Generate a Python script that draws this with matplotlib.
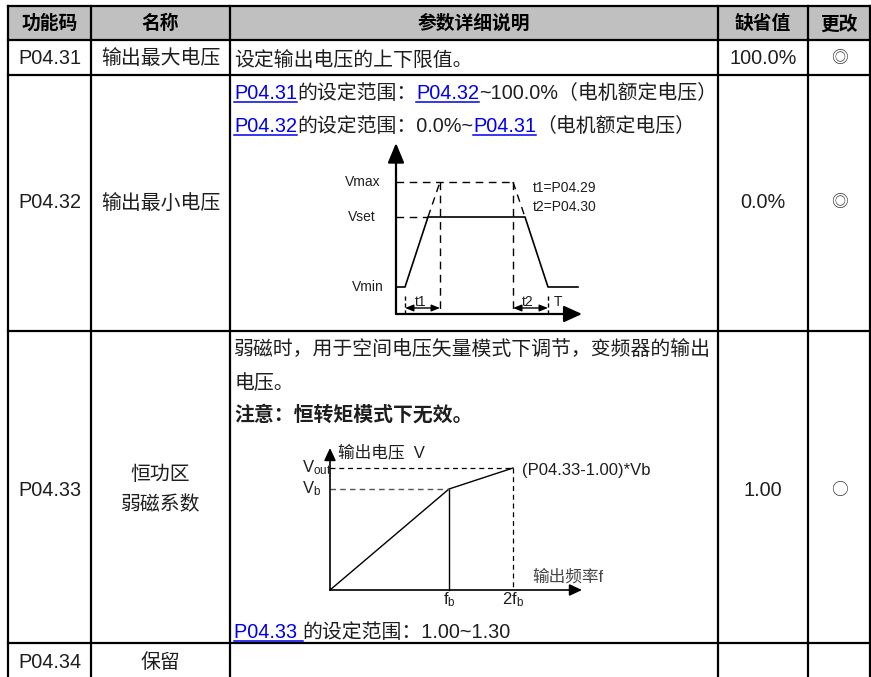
import matplotlib
matplotlib.use('Agg')
import matplotlib.pyplot as plt

plt.rcParams['font.family'] = ['Liberation Sans', 'Noto Sans CJK SC', 'DejaVu Sans']
plt.rcParams['mathtext.fontset'] = 'custom'
plt.rcParams['mathtext.rm'] = 'Liberation Sans'

# ---- table content ----
headers = ['功能码', '名称', '参数详细说明', '缺省值', '更改']
codes = ['P04.31', 'P04.32', 'P04.33', 'P04.34']
names = [['输出最大电压'], ['输出最小电压'], ['恒功区', '弱磁系数'], ['保留']]
defaults = ['100.0%', '0.0%', '1.00', '']
changes = ['◎', '◎', '○', '']

# description lines: (text, style) pieces
desc_p0431 = [[('设定输出电压的上下限值。', 'n')]]
desc_p0432 = [
    [('P04.31', 'link'), ('的设定范围：', 'n'), ('P04.32', 'link'), ('~100.0%（电机额定电压）', 'n')],
    [('P04.32', 'link'), ('的设定范围：0.0%~', 'n'), ('P04.31', 'link'), ('（电机额定电压）', 'n')],
]
desc_p0433 = [
    [('弱磁时，用于空间电压矢量模式下调节，变频器的输出', 'n')],
    [('电压。', 'n')],
    [('注意：恒转矩模式下无效。', 'bold')],
]
desc_p0433_tail = [[('P04.33 ', 'link'), ('的设定范围：1.00~1.30', 'n')]]

# ---- ramp diagram (P04.32) ----
ramp_t = [0, 0.9, 3.2, 12.9, 15.2, 18.2]
ramp_v = [2.7, 2.7, 9.7, 9.7, 2.7, 2.7]
v_min, v_set, v_max = 2.7, 9.7, 13.2
t1_span = [0.9, 4.4]
t2_span = [11.7, 15.2]
ramp_labels = ['Vmax', 'Vset', 'Vmin']
ramp_notes = ['t1=P04.29', 't2=P04.30']

# ---- weakening diagram (P04.33) ----
vf_f = [0, 11.9, 18.3]
vf_v = [0, 10.1, 12.2]
f_b, f_2b = 11.9, 18.3
v_b, v_out = 10.1, 12.2

W, H = 871, 677
INK = '#1e1e1e'
LINK = '#0000ee'
SIZE = 14.3

fig = plt.figure(figsize=(W / 100, H / 100), dpi=100)
ax = fig.add_axes([0, 0, 1, 1])
ax.set_xlim(0, W)
ax.set_ylim(H, 0)
ax.axis('off')

row_edges = [6, 40, 75, 331, 643]
col_edges = [8, 91, 230, 718, 808, 870]
col_mid = [(a + b) / 2 for a, b in zip(col_edges[:-1], col_edges[1:])]
row_mid = [58, 203, 490, 663]

# header band
ax.fill_between([col_edges[0], col_edges[-1]], row_edges[0], row_edges[1],
                color='#c0c0c0', lw=0)
for y in row_edges:
    ax.plot([col_edges[0], col_edges[-1]], [y, y], color='black', lw=1.6,
            solid_capstyle='projecting')
for x in col_edges:
    ax.plot([x, x], [row_edges[0], H + 5], color='black', lw=1.6,
            solid_capstyle='projecting')

for x, h in zip(col_mid, headers):
    ax.text(x, 24, h, ha='center', va='center', fontsize=13.5,
            fontweight='bold', color='black')

for i, code in enumerate(codes):
    y = row_mid[i]
    ax.text(col_mid[0], y, code, ha='center', va='center', fontsize=SIZE, color=INK)
    nm = names[i]
    for k, line in enumerate(nm):
        ax.text(col_mid[1], y + (k - (len(nm) - 1) / 2) * 30, line,
                ha='center', va='center', fontsize=SIZE, color=INK)
    ax.text(col_mid[3], y, defaults[i], ha='center', va='center', fontsize=SIZE, color=INK)
    ax.text(col_mid[4], y, changes[i], ha='center', va='center', fontsize=12,
            color='#333333', family=['Noto Sans CJK SC', 'DejaVu Sans'])

renderer = fig.canvas.get_renderer()


def rich_line(x, y, parts):
    inv = ax.transData.inverted()
    for text, style in parts:
        t = ax.text(x, y, text, fontsize=SIZE, ha='left', va='baseline',
                    color=LINK if style == 'link' else INK,
                    fontweight='bold' if style == 'bold' else 'normal')
        bb = t.get_window_extent(renderer=renderer)
        x1 = inv.transform((bb.x1, bb.y0))[0]
        if style == 'link':
            ax.plot([x, x1], [y + 2.5, y + 2.5], color=LINK, lw=1.1)
        x = x1


text_x = 234
for lines, baselines in [(desc_p0431, [66]), (desc_p0432, [99, 132]),
                         (desc_p0433, [356, 389, 421]), (desc_p0433_tail, [638])]:
    for parts, yb in zip(lines, baselines):
        rich_line(text_x, yb, parts)


def inset(origin, xlim, ylim, scale=10):
    ox, oy = origin
    left = ox + xlim[0] * scale
    right = ox + xlim[1] * scale
    bottom = oy - ylim[0] * scale
    top = oy - ylim[1] * scale
    a = fig.add_axes([left / W, 1 - bottom / H, (right - left) / W, (bottom - top) / H])
    a.set_xlim(*xlim)
    a.set_ylim(*ylim)
    a.axis('off')
    return a


def arrow(a, start, end, hl, hw, lw, style='-|>'):
    a.annotate('', xy=end, xytext=start,
               arrowprops=dict(arrowstyle=f'{style},head_length={hl},head_width={hw}',
                               lw=lw, color='black', shrinkA=0, shrinkB=0,
                               mutation_scale=10))


# ---- ramp diagram ----
d1 = inset((396, 314), (-6, 21), (-1, 18))
dash1 = (0, (5.5, 4))
arrow(d1, (0, 0), (0, 17.1), 1.2, 0.5, 1.6)
arrow(d1, (0, 0), (18.6, 0), 1.1, 0.5, 1.6)
d1.plot(ramp_t, ramp_v, color='black', lw=1.2)
d1.plot([0, t2_span[0]], [v_max, v_max], color='black', lw=1.0, ls=dash1)
d1.plot([0, ramp_t[2]], [v_set, v_set], color='black', lw=1.0, ls=dash1)
d1.plot([ramp_t[2], t1_span[1]], [v_set, v_max], color='black', lw=1.0, ls=dash1)
d1.plot([t2_span[0], ramp_t[3]], [v_max, v_set], color='black', lw=1.0, ls=dash1)
for t in [t1_span[1], t2_span[0]]:
    d1.plot([t, t], [v_max, 0], color='black', lw=1.0, ls=dash1)
for t in [t1_span[0], t2_span[1]]:
    d1.plot([t, t], [1.8, 0], color='black', lw=1.0, ls=(0, (3, 2)))
arrow(d1, (t1_span[0], 0.6), (t1_span[1], 0.6), 0.5, 0.2, 1.0, '<|-|>')
arrow(d1, (t2_span[0], 0.6), (t2_span[1], 0.6), 0.5, 0.2, 1.0, '<|-|>')
d1.text(2.5, 1.2, 't1', fontsize=10, ha='center', va='center', color=INK)
d1.text(13.2, 1.2, 't2', fontsize=10, ha='center', va='center', color=INK)
d1.text(16.2, 1.2, 'T', fontsize=10, ha='center', va='center', color=INK)
for lab, lv, lx in zip(ramp_labels, [v_max, v_set, v_min], [-3.3, -3.4, -2.8]):
    d1.text(lx, lv, lab, fontsize=10, ha='center', va='center', color=INK)
for note, ny in zip(ramp_notes, [12.6, 10.7]):
    d1.text(13.7, ny, note, fontsize=10, ha='left', va='center', color=INK)

# ---- weakening diagram ----
d2 = inset((330, 590), (-4, 29), (-2, 15))
arrow(d2, (0, 0), (0, 14.2), 0.75, 0.35, 1.2)
arrow(d2, (0, 0), (25.2, 0), 0.75, 0.35, 1.2)
d2.plot(vf_f, vf_v, color='black', lw=1.0)
d2.plot([f_b, f_b], [0, v_b], color='black', lw=1.0)
d2.plot([0, f_b], [v_b, v_b], color='#555555', lw=1.0, ls=(0, (4, 3)))
d2.plot([0, f_2b], [v_out, v_out], color='black', lw=0.9, ls=(0, (4, 3)))
d2.plot([f_2b, f_2b], [v_out, 0], color='black', lw=0.9, ls=(0, (4, 3)))
d2.text(0.8, 13.8, '输出电压  V', fontsize=12, ha='left', va='center', color=INK)
d2.text(-2.8, v_out, r'$\mathrm{V_{out}}$', fontsize=12, ha='left', va='center', color=INK)
d2.text(-2.8, v_b, r'$\mathrm{V_b}$', fontsize=12, ha='left', va='center', color=INK)
d2.text(19.2, 11.9, '(P04.33-1.00)*Vb', fontsize=12, ha='left', va='center', color=INK)
d2.text(20.2, 1.3, '输出频率f', fontsize=12, ha='left', va='center', color='#444444')
d2.text(f_b, -1.0, r'$\mathrm{f_b}$', fontsize=12, ha='center', va='center', color=INK)
d2.text(f_2b, -1.0, r'$\mathrm{2f_b}$', fontsize=12, ha='center', va='center', color=INK)

fig.savefig('out.png', dpi=100)
